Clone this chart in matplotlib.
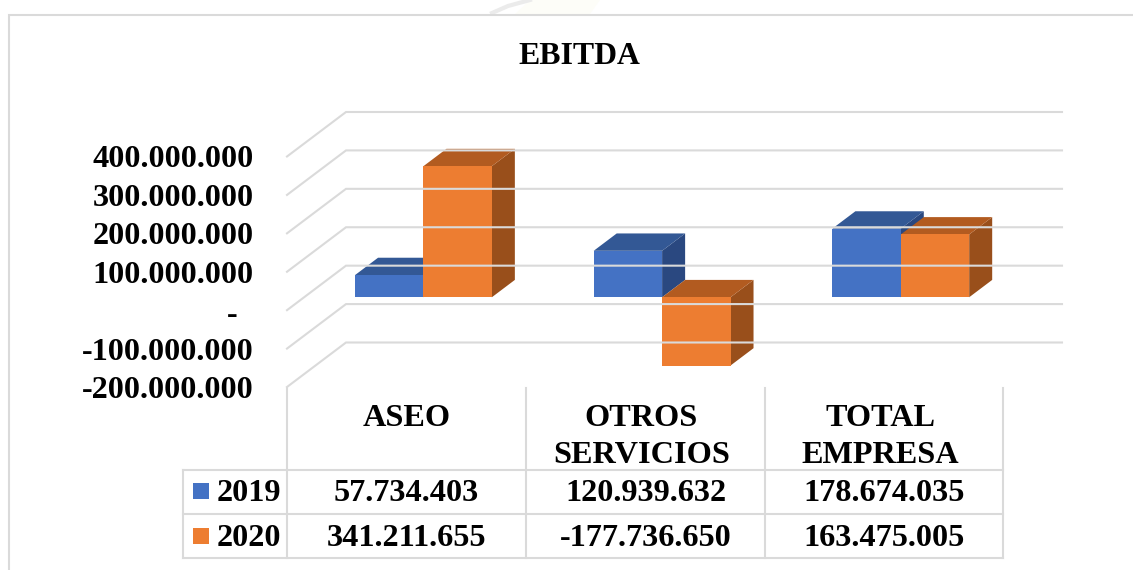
import matplotlib
matplotlib.use("Agg")
import matplotlib.pyplot as plt

# Data
categorias = ["ASEO", "OTROS\nSERVICIOS", "TOTAL\nEMPRESA"]
series = ["2019", "2020"]
valores_2019 = [57734403, 120939632, 178674035]
valores_2020 = [341211655, -177736650, 163475005]
ticks = [400000000, 300000000, 200000000, 100000000, 0, -100000000, -200000000]

# Colours: front, top, side
azul = ("#4472C4", "#335895", "#2A4880")
naranja = ("#ED7D31", "#B25B20", "#994F1B")
gris = "#DADADA"

W, H = 1133, 570
plt.rcParams["font.family"] = ["Liberation Serif", "DejaVu Serif"]
plt.rcParams["font.weight"] = "bold"
FS = 23.2

fig = plt.figure(figsize=(W / 100, H / 100), dpi=100, facecolor="white")

# Background axes in pixels: frame, table and texts
bg = fig.add_axes([0, 0, 1, 1], zorder=0)
bg.set_xlim(0, W)
bg.set_ylim(H, 0)
bg.axis("off")

# Chart axes: x in categories, y in value. It covers the front plane of the 3D box
x0, x1, y_top, y_bot = 287, 1003, 156.5, 387
ax = fig.add_axes([x0 / W, 1 - y_bot / H, (x1 - x0) / W, (y_bot - y_top) / H], zorder=1)
ax.set_xlim(0, 3)
ax.set_ylim(-200000000, 400000000)
ax.axis("off")
ax.patch.set_visible(False)

# Depth: how far the back wall moves from the front plane, in data units
DX = 59 / (x1 - x0) * 3
DY = 44.5 / (y_bot - y_top) * 600000000


def proj(x, v, t):
    """ Project a point (category x, value v, depth t 0..1) on the front plane"""
    return x + t * DX, v + t * DY


def fill3d(puntos, color):
    xs = [p[0] for p in puntos]
    ys = [p[1] for p in puntos]
    ax.fill(xs, ys, color=color, lw=0, clip_on=False)


def barra(xa, xb, v, colores, t0=0.29, t1=0.68):
    """ Draw one 3D bar from 0 to v: side, top, front"""
    alto = max(v, 0)
    bajo = min(v, 0)
    fill3d([proj(xb, bajo, t0), proj(xb, bajo, t1), proj(xb, alto, t1), proj(xb, alto, t0)], colores[2])
    fill3d([proj(xa, alto, t0), proj(xa, alto, t1), proj(xb, alto, t1), proj(xb, alto, t0)], colores[1])
    fill3d([proj(xa, bajo, t0), proj(xb, bajo, t0), proj(xb, alto, t0), proj(xa, alto, t0)], colores[0])


# Gridlines: front edge to back wall, then along the wall
for v in ticks:
    xa, ya = proj(0, v, 0)
    xb, yb = proj(0, v, 1)
    xc, yc = proj(3, v, 1)
    ax.plot([xa, xb, xc], [ya, yb, yc], color=gris, lw=1.5, clip_on=False, solid_joinstyle="miter")

# Bars
ANCHO = 0.2866
HUECO = 0.2134
for i in range(len(categorias)):
    xa = i + HUECO
    barra(xa, xa + ANCHO, valores_2019[i], azul)
    barra(xa + ANCHO, xa + 2 * ANCHO, valores_2020[i], naranja)

# Value axis labels, a little below their gridline ends (offsets in points)
for v in ticks:
    if v == 0:
        ax.annotate("-", (-55 / (x1 - x0) * 3, v), xytext=(0, -3.8), textcoords="offset points",
                    ha="center", va="center", fontsize=FS, annotation_clip=False)
    else:
        ax.annotate(f"{v:,}".replace(",", "."), (-35 / (x1 - x0) * 3, v), xytext=(1.4, -2.5),
                    textcoords="offset points", ha="right", va="center", fontsize=FS, annotation_clip=False)

# Outer frame of the picture and watermark remains
bg.fill([530, 600, 590, 515], [0, 0, 14, 14], color="#FDFDF8", lw=0)
bg.plot([492, 508, 530], [13, 6, 0], color="#EBEBEB", lw=3)
bg.plot([9, 9, W], [H, 14.5, 14.5], color=gris, lw=1.5, solid_joinstyle="miter")

# Data table
cols_x = [287, 526, 765, 1003]
filas_y = [469.5, 514, 558]
bg.plot([183, cols_x[-1]], [filas_y[0], filas_y[0]], color=gris, lw=1.5)
bg.plot([183, cols_x[-1]], [filas_y[1], filas_y[1]], color=gris, lw=1.5)
bg.plot([183, cols_x[-1]], [filas_y[2], filas_y[2]], color=gris, lw=1.5)
bg.plot([183, 183], [filas_y[0], filas_y[2]], color=gris, lw=1.5)
for cx in cols_x:
    bg.plot([cx, cx], [388, filas_y[2]], color=gris, lw=1.5)

for i, nombre in enumerate(categorias):
    centro = (cols_x[i] + cols_x[i + 1]) / 2
    lineas = nombre.split("\n")
    # Wrapped labels keep a trailing space, so they sit a little to the left
    dx = -4 if len(lineas) > 1 else 0
    for k, linea in enumerate(lineas):
        bg.text(centro + dx, 426 + 37 * k, linea, ha="center", va="baseline", fontsize=FS)

for f, (serie, valores, colores) in enumerate(zip(series, [valores_2019, valores_2020], [azul, naranja])):
    base = 501 + 45 * f
    bg.fill([193, 209, 209, 193], [base - 18, base - 18, base - 2, base - 2], color=colores[0], lw=0)
    bg.text(217, base, serie, ha="left", va="baseline", fontsize=FS)
    for i, v in enumerate(valores):
        centro = (cols_x[i] + cols_x[i + 1]) / 2
        bg.text(centro, base, f"{v:,}".replace(",", "."), ha="center", va="baseline", fontsize=FS)

# Title
bg.text(579, 64, "EBITDA", ha="center", va="baseline", fontsize=22.9)

fig.savefig("out.png", dpi=100)
